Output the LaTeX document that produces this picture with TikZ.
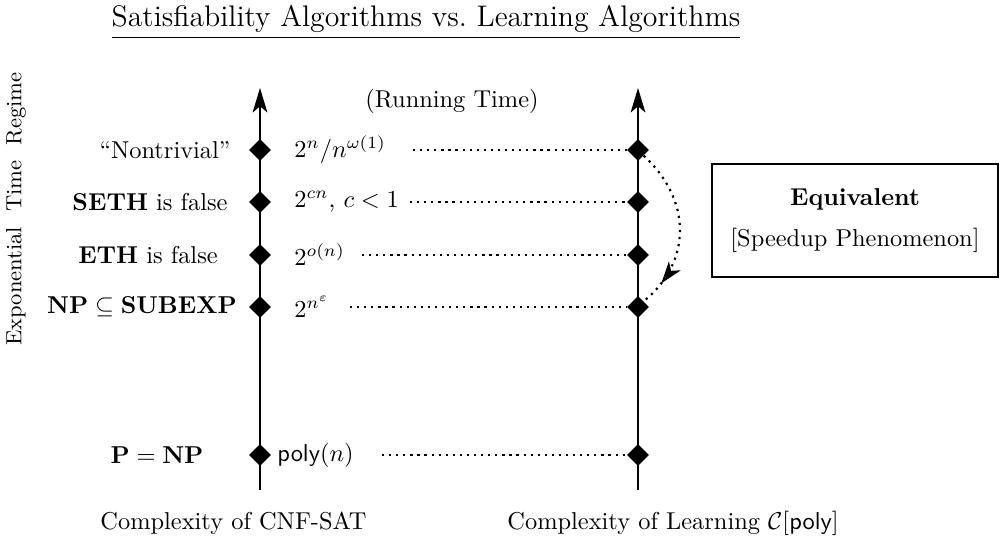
\documentclass[tikz,border=0pt]{standalone}
\usepackage{amsmath,amssymb}
\usetikzlibrary{arrows.meta,decorations.markings,shapes.geometric}
\tikzset{
  axisline/.style={line width=1pt,-{Stealth[length=10pt,width=6pt,inset=2.5pt]}},
  dmd/.style={diamond,fill=black,inner sep=0pt,minimum size=9pt},
  dots/.style={dotted,line width=0.9pt},
  lbl/.style={inner sep=0pt},
  eqbox/.style={draw,line width=0.9pt,align=center,inner sep=0pt},
  curvearrow/.style={dots,postaction={decorate},decoration={markings,
     mark=at position 0.85 with {\arrow[solid]{Stealth[length=9pt,width=6pt,inset=2.5pt]}}}}
}
\begin{document}
\begin{tikzpicture}[x=0.4098pt,y=-0.4098pt]
\useasboundingbox (0,0) rectangle (1002,537);
% title
\node[lbl,anchor=base] (title) at (426,27) {\fontsize{12.2}{14}\selectfont\underline{Satisfiability Algorithms vs.\ Learning Algorithms}};
\node[lbl,rotate=90] (regime) at (16,209) {\small Exponential\ \ Time\ \ Regime};
\node[lbl] (rt) at (452,101) {(Running Time)};
% axes
\coordinate (Lbot) at (260,490); \coordinate (Ltop) at (260,88);
\coordinate (Rbot) at (638,490); \coordinate (Rtop) at (638,88);
\draw[axisline] (Lbot) -- (Ltop);
\draw[axisline] (Rbot) -- (Rtop);
\foreach \i/\y in {1/150,2/202,3/255,4/307,5/455}{
  \node[dmd] (L\i) at (260,\y) {};
  \node[dmd] (R\i) at (638,\y) {};
}
% left labels
\node[lbl] (l1) at (165,150) {``Nontrivial''};
\node[lbl] (l2) at (150,202) {\textbf{SETH} is false};
\node[lbl] (l3) at (148,255) {\textbf{ETH} is false};
\node[lbl] (l4) at (142,307) {$\mathbf{NP}\subseteq\mathbf{SUBEXP}$};
\node[lbl] (l5) at (157,455) {$\mathbf{P}=\mathbf{NP}$};
% right labels
\node[lbl,anchor=west] (r1) at (294,150) {$2^n/n^{\omega(1)}$};
\node[lbl,anchor=west] (r2) at (294,202) {$2^{cn}$, $c<1$};
\node[lbl,anchor=west] (r3) at (294,255) {$2^{o(n)}$};
\node[lbl,anchor=west] (r4) at (294,307) {$2^{n^{\varepsilon}}$};
\node[lbl,anchor=west] (r5) at (277,455) {\textsf{poly}$(n)$};
% dotted connectors
\coordinate (D1) at (413,150);
\coordinate (D2) at (410,202);
\coordinate (D3) at (362,255);
\coordinate (D4) at (350,307);
\coordinate (D5) at (382,455);
\foreach \i in {1,...,5}{ \draw[dots] (D\i) -- (R\i.west); }
% curved arrow
\draw[curvearrow] (R1.south east) .. controls (692,200) and (692,262) .. (R4.north east);
% box
\node[eqbox,minimum width=117.2pt,minimum height=46.3pt] (eq) at (855,220.5)
  {\textbf{Equivalent}\\[4.5pt]{[Speedup Phenomenon]}};
% bottom labels
\node[lbl,anchor=base west] (cl) at (100,529) {Complexity of CNF-SAT};
\node[lbl,anchor=base west] (cr) at (507,529) {Complexity of Learning $\mathcal{C}[\textsf{poly}]$};
\end{tikzpicture}
\end{document}
